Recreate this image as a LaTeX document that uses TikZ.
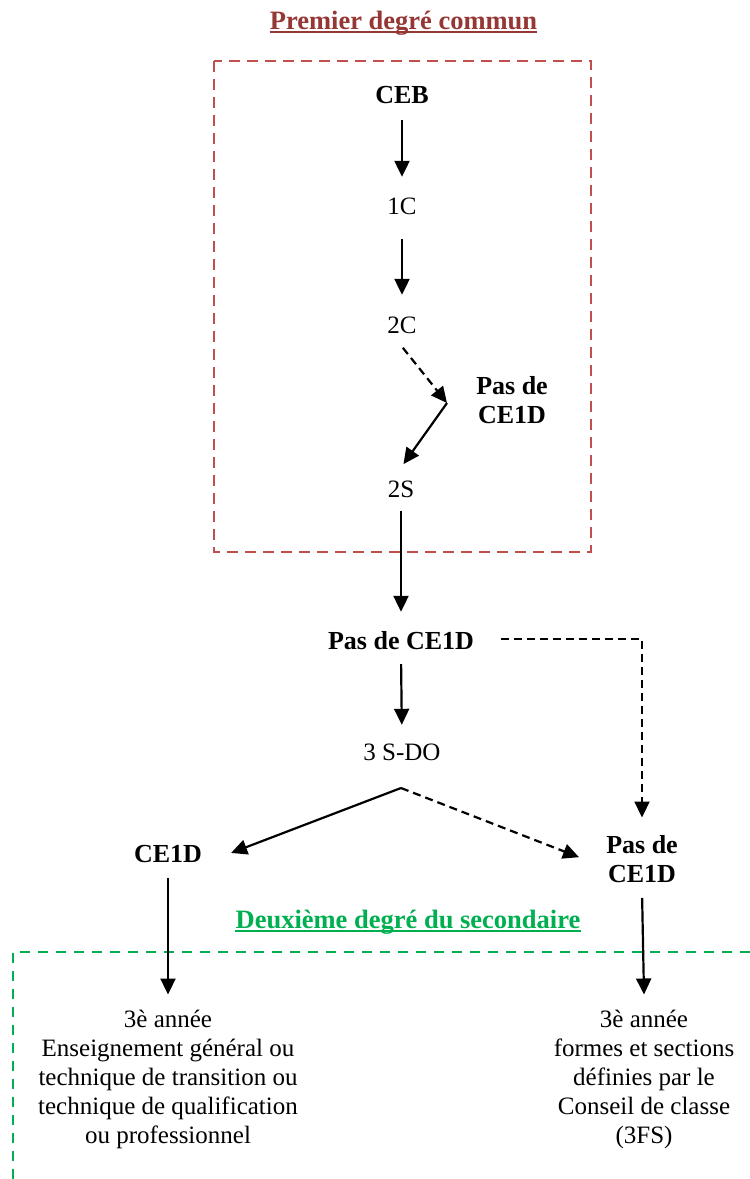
\documentclass[tikz,border=0pt]{standalone}
\usepackage{fontspec}
\setmainfont{Liberation Serif}
\usetikzlibrary{arrows.meta}
\definecolor{titlered}{HTML}{953735}
\definecolor{boxred}{HTML}{C0504D}
\definecolor{boxgreen}{HTML}{00B050}
\tikzset{
  lbl/.style={inner sep=0pt, anchor=base, text height=18pt, text depth=6pt,
    font=\fontsize{25}{29}\selectfont},
  blbl/.style={lbl, font=\fontsize{26}{29}\selectfont\bfseries},
  mlbl/.style={inner sep=0pt, anchor=base, font=\fontsize{25}{29}\selectfont},
  bmlbl/.style={mlbl, font=\fontsize{26}{29}\selectfont\bfseries},
  heading/.style={inner sep=0pt, anchor=base, font=\fontsize{26.5}{30}\selectfont\bfseries},
  arr/.style={line width=2.2pt, -{Triangle[length=16pt,width=15pt]}},
  darr/.style={arr, dash pattern=on 8pt off 5pt},
  redbox/.style={boxred, line width=2.8pt, dash pattern=on 11pt off 7pt},
  greenbox/.style={boxgreen, line width=2.8pt, dash pattern=on 10pt off 8pt},
}
\newcommand{\lines}[1]{\begin{tabular}[t]{@{}c@{}}#1\end{tabular}}
\begin{document}
\begin{tikzpicture}[x=1pt, y=-1pt]
  \useasboundingbox (0,0) rectangle (750,1179);
  \fill[white] (0,0) rectangle (750,1179);

  % section frames
  \draw[redbox] (214,61) rectangle (591,552);
  \draw[greenbox] (750,952) -- (13,952) -- (13,1185);

  % headings
  \node[heading, text=titlered] (t1) at (403.5,29) {Premier degré commun};
  \draw[titlered, line width=1.5pt] ([yshift=-3pt]t1.base west) -- ([yshift=-3pt]t1.base east);
  \node[heading, text=boxgreen] (t2) at (408,928) {Deuxième degré du secondaire};
  \draw[boxgreen, line width=1.5pt] ([yshift=-3pt]t2.base west) -- ([yshift=-3pt]t2.base east);

  % first degree
  \node[blbl] (ceb) at (402,103) {CEB};
  \node[lbl] (c1) at (402,214) {1C};
  \node[lbl] (c2) at (402,333) {2C};
  \node[bmlbl] (pasA) at (512,394) {\lines{Pas de\\CE1D}};
  \coordinate (j1) at (447,403);
  \node[lbl] (s2) at (401,497) {2S};

  % after the first degree
  \node[blbl] (p1) at (401,649) {Pas de CE1D};
  \node[lbl] (sdo) at (402,760) {3 S-DO};
  \coordinate (j2) at (401,788);
  \node[blbl] (ce1d) at (168,862) {CE1D};
  \node[bmlbl] (p2) at (642,853) {\lines{Pas de\\CE1D}};

  % second degree
  \node[mlbl] (txtL) at (168,1027) {\lines{3è année\\Enseignement général ou\\technique de transition ou\\technique de qualification\\ou professionnel}};
  \node[mlbl] (txtR) at (644,1027) {\lines{3è année\\formes et sections\\définies par le\\Conseil de classe\\(3FS)}};

  % connectors
  \draw[arr, shorten <=11pt, shorten >=19pt] (ceb.south) -- (c1.north);
  \draw[arr, shorten <=19pt, shorten >=20pt] (c1.south) -- (c2.north);
  \draw[darr, shorten <=11pt] ([xshift=-6pt]c2.south) -- (j1);
  \draw[arr, shorten >=18pt] (j1) -- ([xshift=-8pt]s2.north);
  \draw[arr, shorten <=8pt, shorten >=19pt] (s2.south) -- (p1.north);
  \draw[arr, shorten <=9pt, shorten >=17pt] (p1.south) -- (sdo.north);
  \draw[arr, shorten >=31pt] (j2) -- ([yshift=-8pt]ce1d.east);
  \draw[darr, shorten >=29pt] (j2) -- ([yshift=-6pt]p2.west);
  \draw[darr, shorten <=27pt, shorten >=15pt] ([yshift=4pt]p1.east) -| (p2.north);
  \draw[arr, shorten <=10pt] (ce1d.south) -- ([yshift=12pt]txtL.north);
  \draw[arr, shorten <=7pt] (p2.south) -- ([yshift=12pt]txtR.north);
\end{tikzpicture}
\end{document}
